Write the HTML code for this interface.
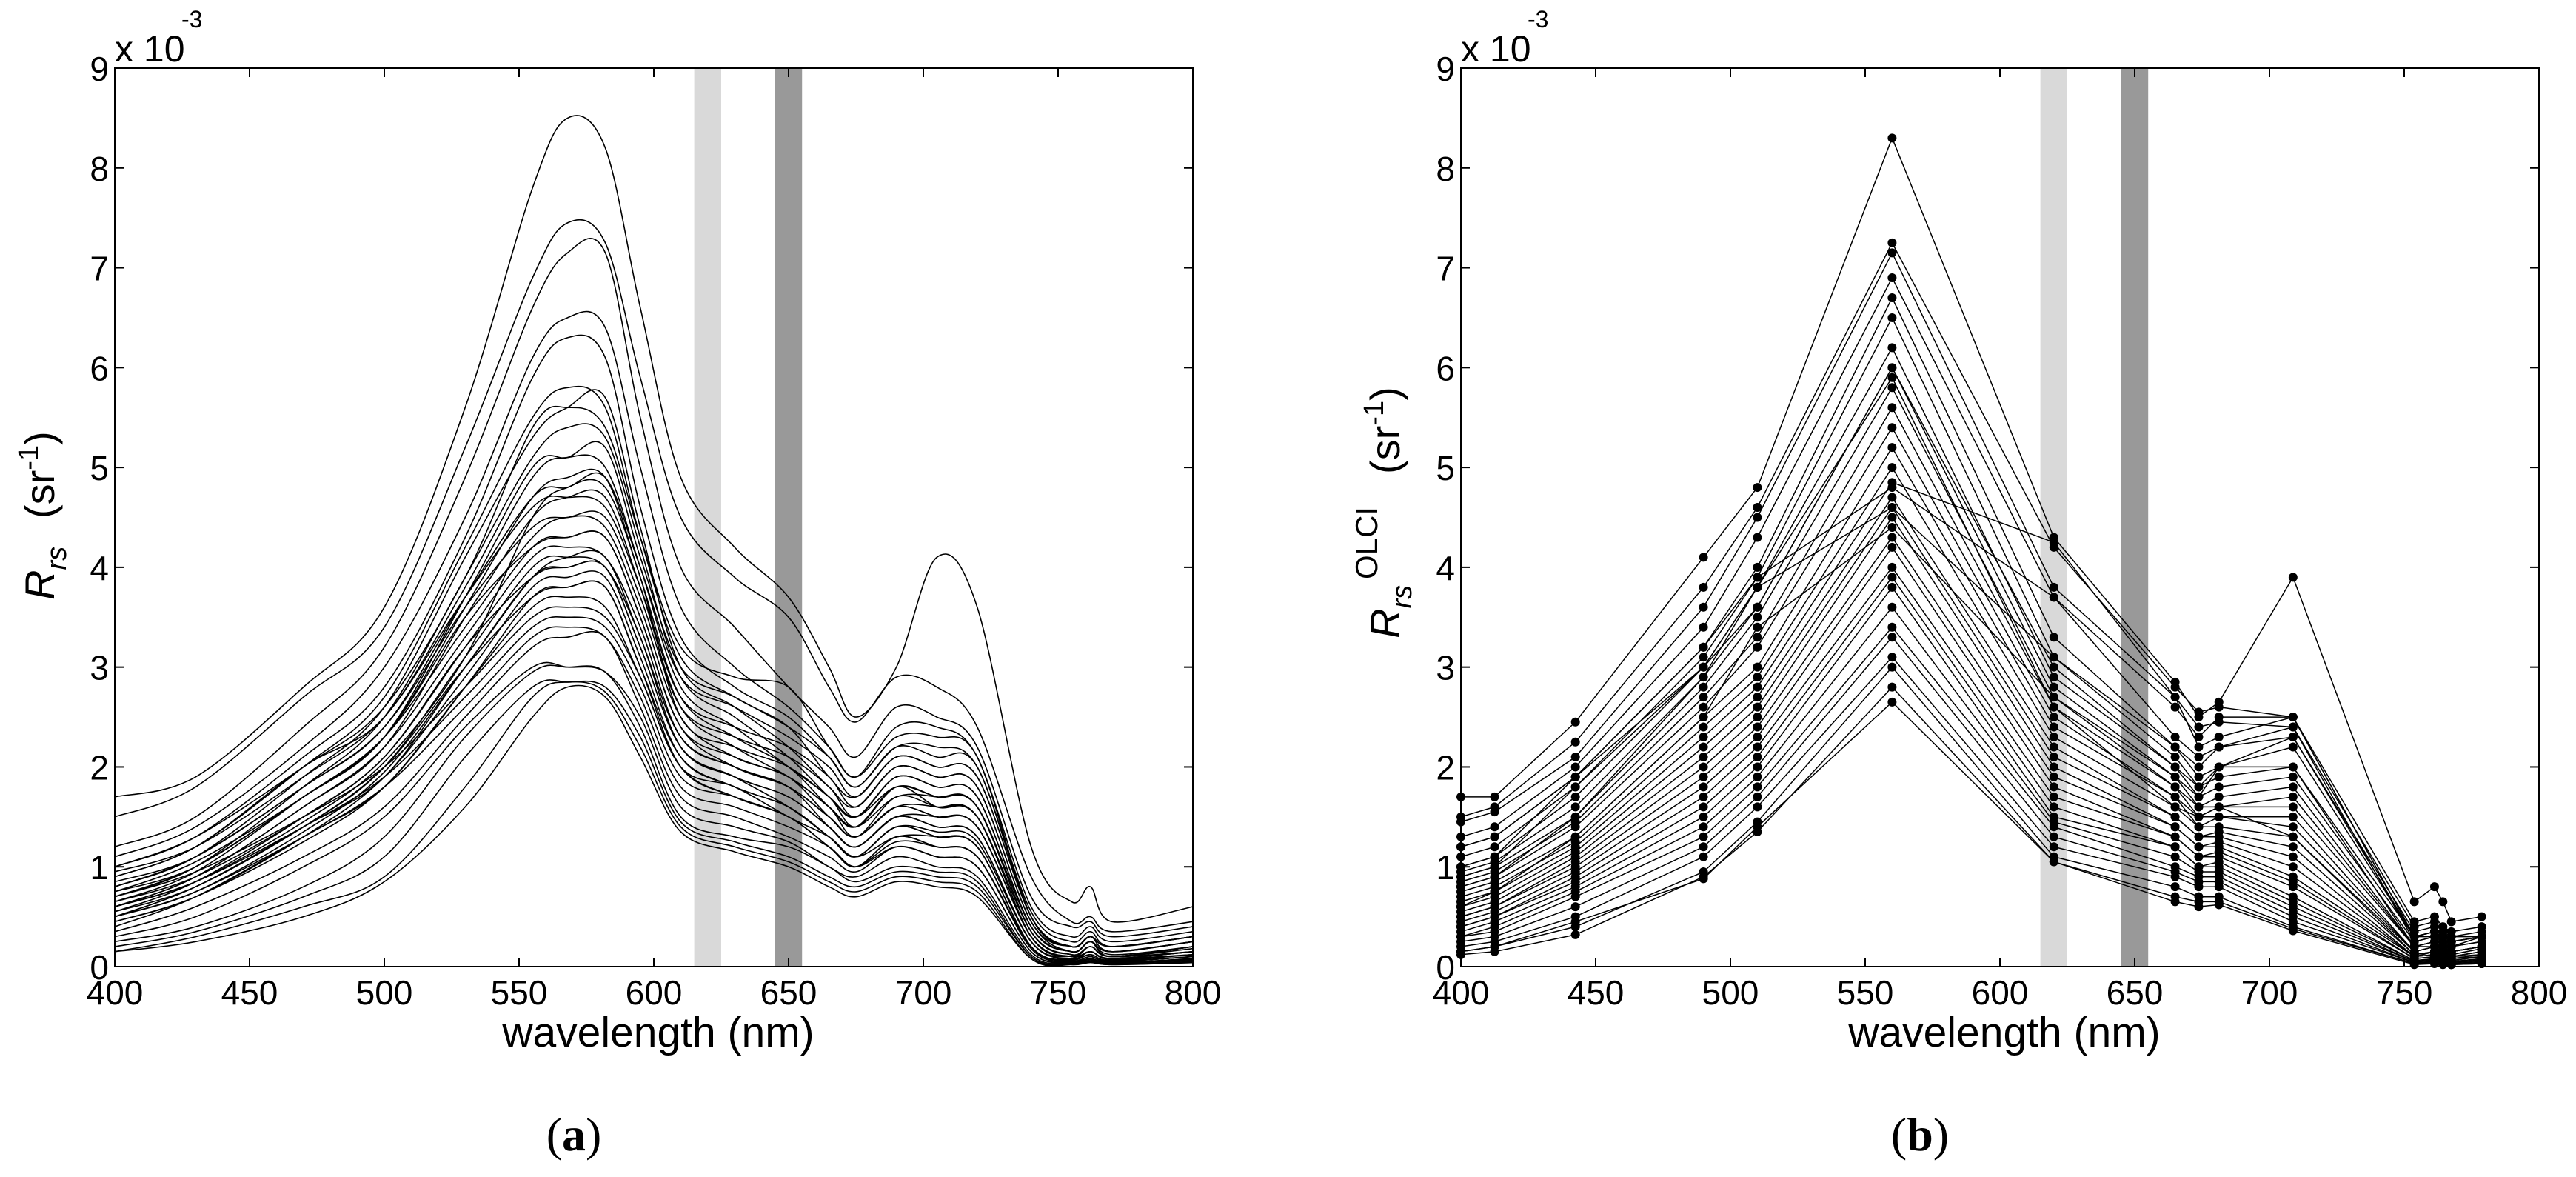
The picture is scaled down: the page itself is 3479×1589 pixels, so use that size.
<!DOCTYPE html>
<html><head><meta charset="utf-8"><style>
html,body{margin:0;padding:0;background:#fff;}
svg{display:block;font-family:"Liberation Sans",sans-serif;}
</style></head><body>
<svg id="fig" width="3479" height="1589" viewBox="0 0 3479 1589" xmlns="http://www.w3.org/2000/svg">
<rect x="0" y="0" width="3479" height="1589" fill="#fff"/>
<g id="panelA"></g>
<g id="panelB"></g>
<text x="775" y="1553" font-family="'Liberation Serif',serif" font-size="64" text-anchor="middle">(<tspan font-weight="bold">a</tspan>)</text>
<text x="2593" y="1553" font-family="'Liberation Serif',serif" font-size="64" text-anchor="middle">(<tspan font-weight="bold">b</tspan>)</text>
</svg>
<script>
const xTicks=[400,450,500,550,600,650,700,750,800];
const yTicks=[0,1,2,3,4,5,6,7,8,9];
const bandLight=[615,625];
const bandDark=[645,655];
const wlA=[400,430,470,500,530,555,568,582,595,610,630,650,665,675,690,705,720,740,755,762,770,800];
const specA=[
[1.7,1.9,2.8,3.6,5.6,7.8,8.5,8.2,6.6,4.9,4.2,3.7,3.0,2.5,3.0,4.1,3.6,1.2,0.65,0.8,0.45,0.6],
[1.5,1.8,2.7,3.4,5.2,6.9,7.45,7.25,5.9,4.5,3.9,3.5,2.8,2.45,2.9,2.8,2.4,0.9,0.45,0.5,0.35,0.45],
[1.2,1.5,2.4,3.2,4.9,6.6,7.15,7.15,5.5,4.0,3.4,2.8,2.4,2.1,2.6,2.5,2.2,0.7,0.4,0.45,0.3,0.4],
[1.1,1.4,2.2,3.0,4.5,6.1,6.5,6.4,5.0,3.6,3.0,2.6,2.2,1.9,2.4,2.4,2.1,0.6,0.3,0.4,0.25,0.35],
[1.0,1.3,2.1,2.8,4.3,5.9,6.3,6.1,4.6,3.3,2.8,2.5,2.1,1.8,2.2,2.2,2.0,0.55,0.25,0.35,0.2,0.3],
[0.9,1.2,2.0,2.7,4.2,5.5,5.8,5.6,4.3,3.1,2.7,2.4,1.9,1.7,2.1,2.0,1.9,0.5,0.2,0.3,0.2,0.3],
[0.8,1.1,1.9,2.6,4.1,5.3,5.6,5.7,4.4,3.0,2.6,2.2,1.8,1.6,2.0,1.9,1.8,0.45,0.2,0.3,0.15,0.25],
[0.7,1.0,1.8,2.5,3.9,5.1,5.4,5.3,4.2,2.9,2.5,2.1,1.7,1.5,1.9,1.8,1.7,0.4,0.15,0.25,0.15,0.25],
[0.75,1.05,1.7,2.3,3.7,4.9,5.1,5.0,4.0,2.8,2.4,2.0,1.7,1.4,1.8,1.7,1.6,0.4,0.15,0.25,0.1,0.2],
[0.65,0.95,1.7,2.3,3.6,4.7,4.9,4.9,3.9,2.7,2.3,2.0,1.6,1.4,1.8,1.6,1.5,0.35,0.12,0.2,0.1,0.2],
[0.6,0.9,1.6,2.2,3.5,4.5,4.7,4.7,3.8,2.6,2.2,1.9,1.6,1.3,1.7,1.6,1.5,0.3,0.1,0.2,0.1,0.2],
[0.7,1.0,1.7,2.3,3.4,4.3,4.5,4.4,3.6,2.5,2.1,1.9,1.5,1.3,1.6,1.5,1.4,0.3,0.1,0.2,0.1,0.15],
[0.6,0.9,1.6,2.2,3.3,4.2,4.3,4.3,3.5,2.4,2.0,1.8,1.5,1.3,1.6,1.5,1.4,0.3,0.1,0.15,0.08,0.15],
[0.55,0.85,1.5,2.1,3.2,4.1,4.2,4.1,3.4,2.3,2.0,1.8,1.4,1.2,1.5,1.4,1.3,0.25,0.1,0.15,0.08,0.15],
[0.5,0.8,1.4,2.0,3.1,4.0,4.1,4.0,3.3,2.2,1.9,1.7,1.4,1.2,1.5,1.4,1.3,0.25,0.08,0.15,0.07,0.12],
[0.5,0.8,1.4,1.9,3.0,3.9,4.0,4.0,3.2,2.2,1.9,1.6,1.3,1.1,1.4,1.3,1.2,0.2,0.08,0.12,0.06,0.12],
[0.45,0.7,1.3,1.9,2.9,3.8,3.9,3.9,3.1,2.1,1.8,1.6,1.3,1.1,1.4,1.3,1.2,0.2,0.07,0.12,0.06,0.1],
[0.4,0.7,1.3,1.8,2.8,3.7,3.8,3.8,3.0,2.0,1.7,1.5,1.2,1.0,1.3,1.2,1.1,0.2,0.06,0.1,0.05,0.1],
[0.7,0.95,1.5,2.0,2.8,3.5,3.6,3.5,2.9,2.0,1.8,1.5,1.3,1.1,1.3,1.3,1.2,0.2,0.06,0.1,0.05,0.1],
[0.6,0.85,1.4,1.9,2.7,3.4,3.5,3.4,2.8,1.9,1.7,1.5,1.2,1.0,1.3,1.2,1.1,0.18,0.05,0.1,0.05,0.1],
[0.5,0.75,1.3,1.8,2.6,3.3,3.4,3.3,2.7,1.8,1.6,1.4,1.2,1.0,1.2,1.1,1.0,0.15,0.05,0.08,0.04,0.08],
[0.35,0.6,1.1,1.6,2.5,3.2,3.3,3.3,2.6,1.7,1.5,1.3,1.1,0.95,1.2,1.1,1.0,0.15,0.04,0.08,0.04,0.08],
[0.3,0.5,1.0,1.5,2.4,3.0,3.0,2.95,2.5,1.6,1.4,1.25,1.0,0.9,1.1,1.0,0.9,0.12,0.04,0.07,0.03,0.07],
[0.25,0.4,0.8,1.3,2.3,2.95,3.0,2.95,2.4,1.5,1.3,1.2,1.0,0.85,1.0,0.95,0.85,0.1,0.03,0.06,0.03,0.06],
[0.2,0.35,0.7,1.1,2.1,2.8,2.85,2.8,2.3,1.45,1.25,1.1,0.9,0.8,0.95,0.9,0.8,0.1,0.03,0.05,0.02,0.05],
[0.15,0.3,0.6,0.9,1.8,2.7,2.85,2.75,2.2,1.4,1.2,1.05,0.85,0.75,0.9,0.85,0.75,0.08,0.02,0.05,0.02,0.04],
[0.15,0.25,0.5,0.85,1.6,2.5,2.8,2.7,2.1,1.35,1.15,1.0,0.8,0.7,0.85,0.8,0.7,0.08,0.02,0.04,0.02,0.04],
[0.8,1.1,1.8,2.4,3.7,4.7,4.8,4.9,4.0,2.9,2.6,2.3,2.0,1.7,2.1,2.0,1.9,0.5,0.2,0.3,0.15,0.25],
[0.9,1.2,2.0,2.5,3.8,5.0,5.1,5.2,4.1,3.0,2.7,2.4,2.1,1.8,2.2,2.1,2.0,0.5,0.2,0.3,0.2,0.3],
[1.0,1.3,2.0,2.6,3.9,5.4,5.6,5.4,4.3,3.2,2.9,2.8,2.2,1.9,2.3,2.3,2.1,0.5,0.2,0.3,0.2,0.3],
[0.85,1.1,1.8,2.4,3.6,4.4,4.5,4.5,3.7,2.6,2.3,2.1,1.8,1.5,1.9,1.8,1.7,0.4,0.15,0.25,0.12,0.2],
[0.75,1.0,1.7,2.3,3.5,4.2,4.3,4.3,3.5,2.4,2.1,1.9,1.6,1.4,1.7,1.7,1.6,0.35,0.12,0.2,0.1,0.2],
[0.65,0.9,1.5,2.1,3.2,3.9,4.0,4.0,3.2,2.2,1.9,1.7,1.4,1.2,1.5,1.5,1.4,0.3,0.1,0.2,0.1,0.15],
[0.55,0.8,1.4,2.0,3.0,3.7,3.8,3.8,3.0,2.1,1.8,1.6,1.3,1.1,1.4,1.35,1.25,0.25,0.08,0.15,0.08,0.12],
[0.5,0.75,1.35,1.95,3.0,3.9,4.1,4.1,3.3,2.3,2.0,1.8,1.5,1.3,1.6,1.6,1.5,0.3,0.1,0.15,0.08,0.15],
[0.45,0.7,1.25,1.8,2.8,3.6,3.7,3.6,2.9,2.0,1.7,1.5,1.2,1.0,1.25,1.2,1.1,0.2,0.06,0.1,0.05,0.1],
[0.95,1.2,1.9,2.5,3.7,4.6,4.7,4.6,3.8,2.7,2.4,2.2,1.9,1.6,2.0,1.9,1.8,0.45,0.15,0.25,0.15,0.25],
[0.6,0.85,1.45,2.05,3.1,4.5,4.8,4.8,3.9,2.5,2.2,2.0,1.7,1.5,1.8,1.7,1.6,0.35,0.12,0.2,0.1,0.18]
];
const wlB=[400,412.5,442.5,490,510,560,620,665,673.75,681.25,708.75,753.75,761.25,764.375,767.5,778.75];
const specB=[
[1.7,1.7,2.45,4.1,4.8,8.3,4.3,2.85,2.5,2.65,3.9,0.65,0.8,0.65,0.45,0.5],
[1.5,1.6,2.25,3.8,4.6,7.25,4.2,2.8,2.55,2.6,2.5,0.45,0.5,0.4,0.35,0.4],
[1.45,1.55,2.1,3.6,4.5,7.15,3.8,2.7,2.4,2.45,2.4,0.4,0.45,0.35,0.3,0.35],
[1.3,1.4,2.0,3.4,4.3,6.9,3.7,2.3,2.1,2.2,2.3,0.35,0.4,0.3,0.3,0.3],
[1.2,1.3,1.9,3.2,4.0,6.7,3.3,2.2,1.9,2.0,2.2,0.3,0.35,0.3,0.25,0.3],
[1.1,1.2,1.8,3.1,3.9,6.5,3.1,2.1,1.8,1.9,2.0,0.3,0.3,0.25,0.2,0.3],
[1.0,1.1,1.7,3.0,3.8,6.2,2.9,2.0,1.7,1.8,1.9,0.25,0.3,0.2,0.2,0.25],
[0.95,1.05,1.6,2.9,3.6,6.0,2.8,1.9,1.6,1.7,1.8,0.2,0.25,0.2,0.15,0.2],
[0.9,1.0,1.5,2.8,3.5,5.8,2.7,1.8,1.6,1.6,1.7,0.2,0.25,0.2,0.15,0.2],
[0.85,0.95,1.45,2.7,3.3,5.6,2.6,1.8,1.5,1.6,1.6,0.2,0.2,0.15,0.15,0.2],
[0.8,0.9,1.4,2.6,3.2,5.4,2.5,1.7,1.5,1.5,1.5,0.15,0.2,0.15,0.12,0.18],
[0.75,0.85,1.3,2.5,3.0,5.2,2.4,1.7,1.4,1.5,1.4,0.15,0.2,0.15,0.12,0.18],
[0.7,0.8,1.25,2.4,2.9,5.0,2.3,1.6,1.4,1.4,1.3,0.12,0.15,0.12,0.1,0.15],
[0.65,0.75,1.2,2.3,2.8,4.85,4.25,2.7,2.2,2.3,2.5,0.3,0.35,0.3,0.25,0.3],
[0.6,0.7,1.15,2.2,2.7,4.7,2.2,1.5,1.3,1.35,1.2,0.12,0.15,0.12,0.1,0.15],
[0.55,0.65,1.1,2.1,2.6,4.6,2.1,1.5,1.3,1.3,1.1,0.1,0.15,0.1,0.1,0.12],
[0.5,0.6,1.05,2.0,2.5,4.5,2.0,1.4,1.2,1.25,1.0,0.1,0.12,0.1,0.08,0.12],
[0.5,0.6,1.0,1.9,2.4,4.3,1.9,1.4,1.2,1.2,0.9,0.1,0.12,0.1,0.08,0.1],
[0.45,0.55,0.95,1.8,2.3,4.2,1.8,1.3,1.1,1.15,0.85,0.08,0.1,0.08,0.06,0.1],
[0.4,0.5,0.9,1.7,2.2,4.0,1.7,1.3,1.1,1.1,0.8,0.08,0.1,0.08,0.06,0.1],
[0.4,0.5,0.85,1.6,2.1,3.9,1.6,1.2,1.0,1.05,0.7,0.06,0.08,0.06,0.05,0.08],
[0.35,0.45,0.8,1.5,2.0,3.8,1.5,1.2,1.0,1.0,0.65,0.06,0.08,0.06,0.05,0.08],
[0.3,0.4,0.75,1.4,1.9,3.6,1.45,1.1,0.95,0.95,0.6,0.05,0.07,0.05,0.04,0.07],
[0.3,0.35,0.7,1.3,1.8,3.4,1.4,1.0,0.9,0.9,0.55,0.05,0.06,0.05,0.04,0.06],
[0.25,0.3,0.6,1.2,1.7,3.3,1.3,0.95,0.85,0.85,0.5,0.04,0.05,0.04,0.03,0.05],
[0.2,0.25,0.5,1.1,1.6,3.1,1.2,0.9,0.8,0.8,0.45,0.04,0.05,0.04,0.03,0.05],
[0.15,0.2,0.4,0.95,1.45,3.0,1.1,0.8,0.7,0.7,0.4,0.03,0.04,0.03,0.02,0.04],
[0.12,0.15,0.32,0.9,1.35,2.8,1.05,0.7,0.65,0.65,0.38,0.03,0.04,0.03,0.02,0.03],
[0.15,0.2,0.45,0.88,1.4,2.65,1.05,0.65,0.6,0.62,0.36,0.02,0.03,0.02,0.02,0.03],
[1.0,1.1,1.9,3.2,3.9,4.8,3.7,2.6,2.3,2.5,2.5,0.3,0.35,0.3,0.25,0.3],
[0.9,1.0,1.8,3.0,3.8,4.6,3.1,2.2,2.0,2.2,2.4,0.25,0.3,0.25,0.2,0.25],
[0.6,0.75,1.3,2.5,3.4,4.4,2.7,1.9,1.7,2.0,2.0,0.2,0.25,0.2,0.15,0.2],
[1.2,1.3,1.9,3.0,3.6,6.0,3.0,2.0,1.8,2.0,2.3,0.3,0.35,0.3,0.25,0.3],
[0.8,0.9,1.5,2.9,3.8,5.9,2.6,1.6,1.5,1.6,1.3,0.15,0.2,0.15,0.1,0.15]
];
const NS="http://www.w3.org/2000/svg";
function mk(tag,attrs,parent){const e=document.createElementNS(NS,tag);for(const k in attrs)e.setAttribute(k,attrs[k]);parent.appendChild(e);return e;}
const T=92,B=1305,W=1456;
function axes(g,L){
  const xs=v=>L+(v-400)/400*W, ys=v=>B-v/9*(B-T);
  return {xs,ys};
}
function frame(g,L,sc){
  const R=L+W;
  let r=mk('rect',{x:L,y:T,width:W,height:B-T,fill:'none',stroke:'#000','stroke-width':2},g);
  
  
  xTicks.forEach(v=>{const x=sc.xs(v);
    mk('line',{x1:x,y1:B,x2:x,y2:B-12,stroke:'#000','stroke-width':2},g);
    mk('line',{x1:x,y1:T,x2:x,y2:T+12,stroke:'#000','stroke-width':2},g);
    let t=mk('text',{x:x,y:1356,'font-size':46,'text-anchor':'middle'},g);t.textContent=v;
    
    
  });
  yTicks.forEach(v=>{const y=sc.ys(v);
    mk('line',{x1:L,y1:y,x2:L+12,y2:y,stroke:'#000','stroke-width':2},g);
    mk('line',{x1:R,y1:y,x2:R-12,y2:y,stroke:'#000','stroke-width':2},g);
    let t=mk('text',{x:L-8,y:y+17,'font-size':46,'text-anchor':'end'},g);t.textContent=v;
    
    
  });
  let xl=mk('text',{x:L+W/2+6,y:1413,'font-size':57,'text-anchor':'middle'},g);xl.textContent='wavelength (nm)';
  
  
  let ex=mk('text',{x:L,y:83,'font-size':50},g);ex.textContent='x 10';
  
  
  let e3=mk('text',{x:L+90,y:37,'font-size':32},g);e3.textContent='-3';
}
function bands(g,sc){
  let a=mk('rect',{x:sc.xs(bandLight[0]),y:T,width:sc.xs(bandLight[1])-sc.xs(bandLight[0]),height:B-T,fill:'#d9d9d9'},g);
  
  
  let b=mk('rect',{x:sc.xs(bandDark[0]),y:T,width:sc.xs(bandDark[1])-sc.xs(bandDark[0]),height:B-T,fill:'#999999'},g);
  
  
}
(function(){
  const g=document.getElementById('panelA'),L=155,sc=axes(g,L);
  bands(g,sc);
  specA.forEach(s=>{
    const P=wlA.map((w,i)=>[sc.xs(w),sc.ys(s[i])]);
    let d='M'+P[0][0]+','+P[0][1];
    for(let i=0;i<P.length-1;i++){
      const p0=P[Math.max(0,i-1)],p1=P[i],p2=P[i+1],p3=P[Math.min(P.length-1,i+2)];
      const c1=[p1[0]+(p2[0]-p0[0])/6,p1[1]+(p2[1]-p0[1])/6];
      const c2=[p2[0]-(p3[0]-p1[0])/6,p2[1]-(p3[1]-p1[1])/6];
      d+=' C'+c1[0].toFixed(1)+','+c1[1].toFixed(1)+' '+c2[0].toFixed(1)+','+c2[1].toFixed(1)+' '+p2[0].toFixed(1)+','+p2[1].toFixed(1);
    }
    let p=mk('path',{d:d,fill:'none',stroke:'#000','stroke-width':1.6},g);
    
    
  });
  frame(g,L,sc);
  let yl=mk('text',{transform:'translate(73,810) rotate(-90)','font-size':56},g);
  yl.innerHTML='<tspan font-style="italic">R</tspan><tspan font-style="italic" font-size="38" dy="16">rs</tspan><tspan x="110" dy="-16">(sr</tspan><tspan font-size="38" dy="-22">-1</tspan><tspan dy="22">)</tspan>';
  
  
})();
(function(){
  const g=document.getElementById('panelB'),L=1973,sc=axes(g,L);
  bands(g,sc);
  specB.forEach(s=>{
    const pts=wlB.map((w,i)=>sc.xs(w).toFixed(1)+','+sc.ys(s[i]).toFixed(1)).join(' ');
    let p=mk('polyline',{points:pts,fill:'none',stroke:'#000','stroke-width':1.5},g);
    
    
    wlB.forEach((w,i)=>{
      let c=mk('circle',{cx:sc.xs(w),cy:sc.ys(s[i]),r:6,fill:'#000'},g);
      
      
    });
  });
  frame(g,L,sc);
  let yl=mk('text',{transform:'translate(1890,862) rotate(-90)','font-size':56},g);
  yl.innerHTML='<tspan font-style="italic">R</tspan><tspan font-style="italic" font-size="38" dy="16">rs</tspan><tspan x="80" dy="-46" font-size="42">OLCI</tspan><tspan x="222" dy="30">(sr</tspan><tspan font-size="38" dy="-22">-1</tspan><tspan dy="22">)</tspan>';
  
  
})();
</script>
</body></html>
